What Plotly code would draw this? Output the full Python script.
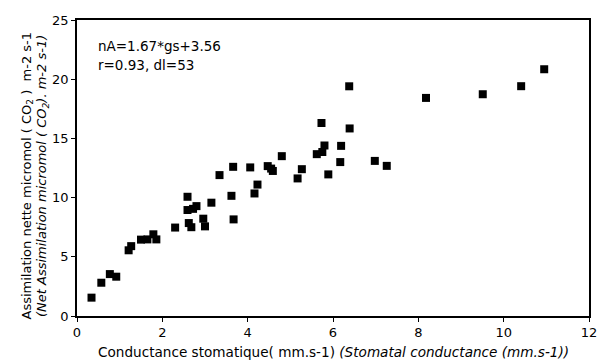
import plotly.graph_objects as go

gs = [0.34, 0.57, 0.77, 0.92, 1.21, 1.27, 1.50, 1.65, 1.79, 1.86,
      2.30, 2.62, 2.68, 2.96, 3.00, 2.59, 2.59, 2.80, 2.72, 3.15,
      3.34, 3.66, 3.62, 3.67, 4.06, 4.16, 4.23, 4.47, 4.59, 4.55,
      4.80, 5.17, 5.27, 5.62, 5.75, 5.89, 5.73, 5.80, 6.19, 6.17,
      6.38, 6.39, 6.98, 7.26, 8.18, 9.51, 10.41, 10.95]
nA = [1.55, 2.81, 3.54, 3.32, 5.55, 5.90, 6.45, 6.47, 6.90, 6.47,
      7.47, 7.85, 7.50, 8.22, 7.57, 10.07, 8.95, 9.28, 9.05, 9.57,
      11.90, 12.60, 10.15, 8.16, 12.55, 10.35, 11.10, 12.66, 12.25, 12.45,
      13.50, 11.62, 12.40, 13.67, 13.85, 11.96, 16.30, 14.40, 14.37, 13.00,
      19.40, 15.84, 13.10, 12.68, 18.42, 18.73, 19.41, 20.84]

x_ticks = [0, 2, 4, 6, 8, 10, 12]
y_ticks = [0, 5, 10, 15, 20, 25]

FONT = "DejaVu Sans, Arial, sans-serif"

fig = go.Figure()
fig.add_trace(go.Scatter(
    x=gs, y=nA, mode="markers",
    marker=dict(symbol="square", size=8, color="black", line=dict(width=0)),
    showlegend=False, hoverinfo="skip"))

fig.update_layout(
    width=605, height=362,
    margin=dict(l=77, r=8, t=20, b=46),
    paper_bgcolor="white", plot_bgcolor="white",
    font=dict(family=FONT, size=13, color="black"),
    xaxis=dict(range=[0, 12], tickvals=x_ticks, showgrid=False, zeroline=False,
               showline=True, linecolor="black", linewidth=1.5, mirror=True,
               ticks="outside", ticklen=4, tickcolor="black",
               tickfont=dict(family=FONT, size=13)),
    yaxis=dict(range=[0, 25], tickvals=y_ticks, showgrid=False, zeroline=False,
               showline=True, linecolor="black", linewidth=1.5, mirror=True,
               ticks="outside", ticklen=4, tickcolor="black",
               tickfont=dict(family=FONT, size=13)),
)

fig.add_annotation(xref="paper", yref="paper", x=0.5, y=-0.088,
                   xanchor="center", yanchor="top", showarrow=False,
                   text="Conductance stomatique( mm.s-1) <i>(Stomatal conductance (mm.s-1))</i>",
                   font=dict(family=FONT, size=13.6))
fig.add_annotation(xref="paper", yref="paper", x=0.0, y=0.5, xshift=-50.5, yshift=-8,
                   xanchor="center", yanchor="middle", showarrow=False, textangle=-90,
                   text="Assimilation nette micromol ( CO<sub>2</sub> )  m-2 s-1",
                   font=dict(family=FONT, size=13))
fig.add_annotation(xref="paper", yref="paper", x=0.0, y=0.5, xshift=-35, yshift=-8,
                   xanchor="center", yanchor="middle", showarrow=False, textangle=-90,
                   text="<i>(Net Assimilation micromol ( CO<sub>2</sub>). m-2 s-1)</i>",
                   font=dict(family=FONT, size=13))
fig.add_annotation(xref="paper", yref="paper", x=0.0365, y=0.912,
                   xanchor="left", yanchor="middle", showarrow=False,
                   text="nA=1.67*gs+3.56", font=dict(family=FONT, size=13.5))
fig.add_annotation(xref="paper", yref="paper", x=0.0365, y=0.848,
                   xanchor="left", yanchor="middle", showarrow=False,
                   text="r=0.93, dl=53", font=dict(family=FONT, size=13.5))

fig.write_html("out.html")
